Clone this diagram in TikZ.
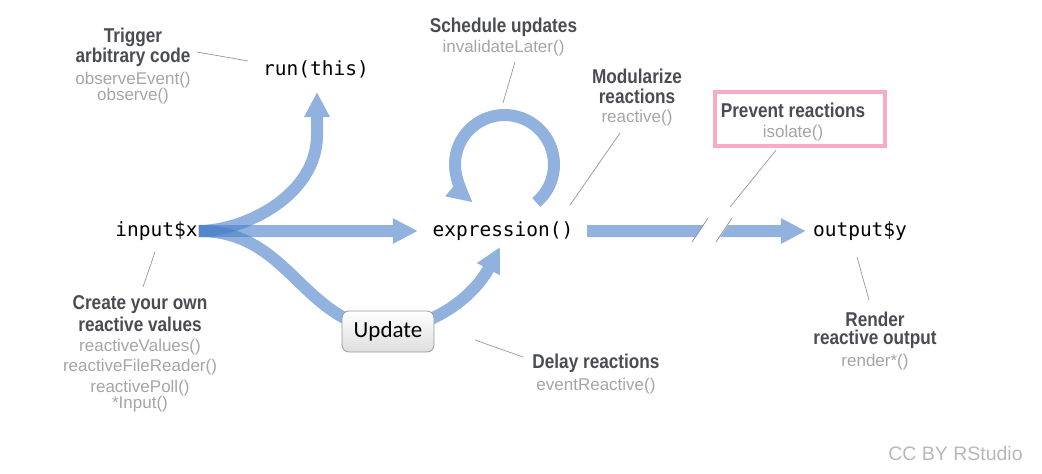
\documentclass[tikz,border=0pt]{standalone}
\usepackage{fontspec}
\usetikzlibrary{arrows.meta,backgrounds}
\newfontfamily\monofam{DejaVu Sans Mono}
\newfontfamily\headfam[FakeStretch=0.86]{Liberation Sans}
\newfontfamily\funcfam{Liberation Sans}
\newfontfamily\btnfam{Carlito}
\definecolor{flowblue}{RGB}{72,127,200}
\definecolor{headgray}{RGB}{74,76,82}
\definecolor{funcgray}{RGB}{165,165,165}
\definecolor{leadgray}{RGB}{150,150,150}
\definecolor{boxpink}{RGB}{248,170,198}
\begin{document}
\begin{tikzpicture}[x=1pt,y=-1pt,
  code/.style={inner sep=0pt,font=\monofam\fontsize{19.5}{20}\selectfont},
  head/.style={inner sep=0pt,text=headgray,font=\headfam\bfseries\fontsize{20}{21}\selectfont},
  func/.style={inner sep=0pt,text=funcgray,font=\funcfam\fontsize{17}{18}\selectfont},
  leader/.style={draw=leadgray,line width=0.7pt},
  flow/.style={draw=flowblue,line width=12pt,-{Triangle[length=25pt,width=24pt]}},
  flowgrp/.style={transparency group,opacity=0.6},
  btn/.style={draw=black!40,line width=0.8pt,rounded corners=7pt,top color=white,bottom color=black!13,
    minimum width=92pt,minimum height=41pt,font=\btnfam\fontsize{23}{24}\selectfont}]
\useasboundingbox (0,0) rectangle (1042,474);

% main reactive objects
\node (inp) [code] at (156.5,231) {input\$x};
\node (run) [code] at (316,69) {run(this)};
\node (expr) [code] at (503,231) {expression()};
\node (out) [code] at (860,231) {output\$y};
\node (upd) [btn] at (388,331.5) {Update};
\coordinate (loopc) at (504.5,164.5);
\coordinate (brk) at (712,230);

% to draw the blue flow arrows
\begin{pgfonlayer}{background}
\begin{scope}[flowgrp]
\draw [flow,shorten <=1pt] (inp.east) .. controls (245,231) and (317,195) .. (317,135) -- ([shift={(1,23)}]run.center);
\end{scope}
\begin{scope}[flowgrp]
\draw [flow,shorten <=1pt,shorten >=14.6pt] (inp.east) -- (expr.west);
\end{scope}
\begin{scope}[flowgrp]
\draw [draw=flowblue,line width=12pt,shorten <=1pt] (inp.east) .. controls (290,231) and (300,322) .. (upd.center);
\end{scope}
\begin{scope}[flowgrp]
\draw [flow] (upd.center) .. controls (450,322) and (480,285) .. ([shift={(-3,16)}]expr.center);
\end{scope}
\begin{scope}[flowgrp]
\draw [flow] (loopc) ++(50:49.5) arc[start angle=50,end angle=-230,radius=49.5];
\end{scope}
\begin{scope}[flowgrp]
\draw [flow,shorten <=13.6pt,shorten >=7pt] (expr.east) -- (out.west);
\end{scope}
\end{pgfonlayer}

% to draw the break in the output arrow
\fill [white] (692,243) -- (708,219) -- (732,219) -- (716,243) -- cycle;
\draw [leadgray,line width=0.8pt] (692,242) -- (708,218);
\draw [leadgray,line width=0.8pt] (716,242) -- (732,218);

% to write labels
\node (trig1) [head] at (133,37) {Trigger};
\node (trig2) [head] at (133,57) {arbitrary code};
\node (trig3) [func] at (133,80) {observeEvent()};
\node (trig4) [func] at (133,96) {observe()};

\node (sched1) [head] at (503.5,27) {Schedule updates};
\node (sched2) [func] at (503.5,48) {invalidateLater()};

\node (mod1) [head] at (637,76) {Modularize};
\node (mod2) [head] at (637,96) {reactions};
\node (mod3) [func] at (637,118) {reactive()};

\node (prevbox) [draw=boxpink,line width=4pt,minimum width=170pt,minimum height=54pt,inner sep=0pt] at (800,119.2) {};
\node (prev1) [head] at (793,110) {Prevent reactions};
\node (prev2) [func] at (793,133) {isolate()};

\node (create1) [head] at (140,305) {Create your own};
\node (create2) [head] at (140,324) {reactive values};
\node (create3) [func] at (140,347) {reactiveValues()};
\node (create4) [func] at (140,367) {reactiveFileReader()};
\node (create5) [func] at (140,388) {reactivePoll()};
\node (create6) [func] at (140,404) {*Input()};

\node (delay1) [head] at (596,363) {Delay reactions};
\node (delay2) [func] at (596,386) {eventReactive()};

\node (rend1) [head] at (875,319) {Render};
\node (rend2) [head] at (875,339) {reactive output};
\node (rend3) [func] at (875,362) {render*()};

\node (cc) [func,text=black!28,font=\funcfam\fontsize{19.5}{20}\selectfont] at (955.5,454) {CC BY RStudio};

% to draw leader lines
\draw [leader] ([shift={(64,-5)}]trig2.center) -- ([shift={(-68,-8)}]run.center);
\draw [leader] ([shift={(11.5,14)}]sched2.center) -- ([shift={(-1.5,-61.5)}]loopc);
\draw [leader] ([shift={(-17,15)}]mod3.center) -- ([shift={(67,-26)}]expr.center);
\draw [leader] ([shift={(-24,31)}]prevbox.center) -- ([shift={(18,-23)}]brk);
\draw [leader] ([shift={(-3,26)}]out.center) -- ([shift={(-6,-19)}]rend1.center);
\draw [leader] ([shift={(-1.5,21)}]inp.center) -- ([shift={(3,-18)}]create1.center);
\draw [leader] ([shift={(87,8.5)}]upd.center) -- ([shift={(-73,-6)}]delay1.center);
\end{tikzpicture}
\end{document}
